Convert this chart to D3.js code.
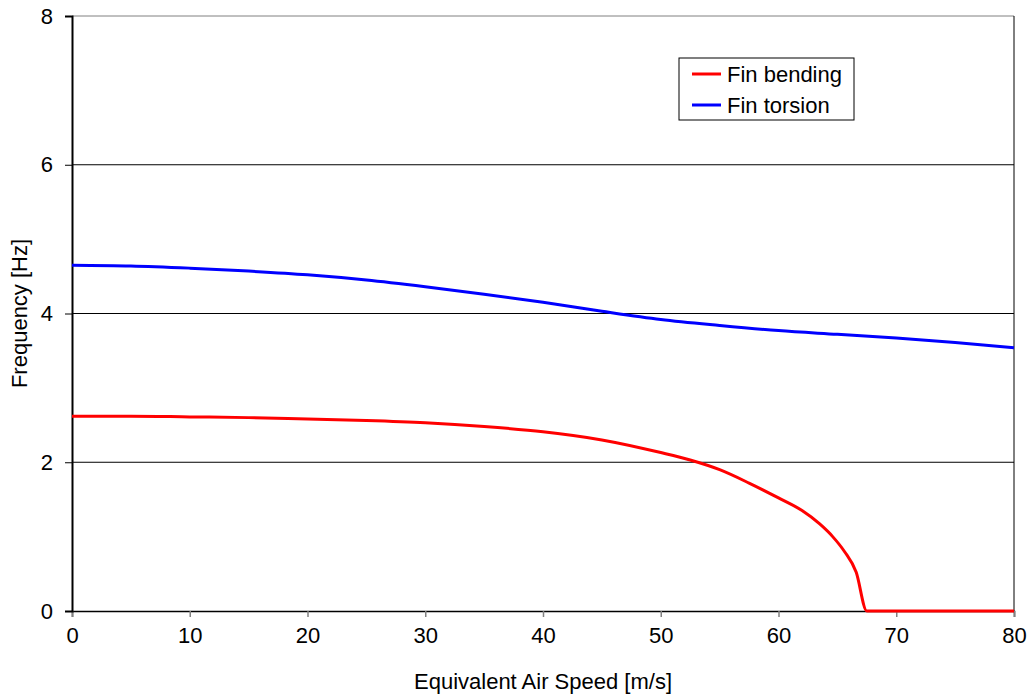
<!DOCTYPE html>
<html>
<head>
<meta charset="utf-8">
<script src="https://cdn.jsdelivr.net/npm/d3@7"></script>
<style>
  body { margin: 0; background: #fff; }
  svg text { font-family: "Liberation Sans", Arial, sans-serif; fill: #000; }
</style>
</head>
<body>
<svg id="chart" width="1031" height="700"></svg>
<script>
// data
const bendingSpeed = [0, 5, 10, 15, 20, 25, 30, 35, 40, 45, 50, 52.5, 55, 57.5, 60, 62, 63.5, 64.6, 65.6, 66.6, 67.5, 70, 75, 80];
const bendingFreq  = [2.62, 2.62, 2.61, 2.60, 2.58, 2.56, 2.53, 2.48, 2.41, 2.30, 2.13, 2.03, 1.90, 1.72, 1.52, 1.35, 1.17, 1.00, 0.80, 0.52, 0, 0, 0, 0];

const torsionSpeed = [0, 5, 10, 15, 20, 25, 30, 35, 40, 45, 50, 55, 60, 65, 70, 75, 80];
const torsionFreq  = [4.65, 4.64, 4.61, 4.57, 4.52, 4.45, 4.36, 4.26, 4.15, 4.03, 3.92, 3.84, 3.77, 3.72, 3.67, 3.61, 3.54];

const xTicks = [0, 10, 20, 30, 40, 50, 60, 70, 80];
const yTicks = [0, 2, 4, 6, 8];

const seriesNames = ["Fin bending", "Fin torsion"];
const seriesColors = ["#ff0000", "#0000ff"];

const svg = d3.select("#chart");
const plotLeft = 72, plotRight = 1014, plotTop = 16, plotBottom = 611;

const x = d3.scaleLinear().domain([0, 80]).range([plotLeft, plotRight]);
const y = d3.scaleLinear().domain([0, 8]).range([plotBottom, plotTop]);

// gridlines
svg.append("g")
    .selectAll("line")
    .data(yTicks.filter(d => d > 0))
    .enter()
    .append("line")
    .attr("x1", plotLeft).attr("x2", plotRight)
    .attr("y1", d => y(d)).attr("y2", d => y(d))
    .attr("stroke", d => d === 8 ? "#808080" : "#000")
    .attr("stroke-width", 1);

// right border
svg.append("line")
    .attr("x1", plotRight).attr("x2", plotRight)
    .attr("y1", plotTop).attr("y2", plotBottom)
    .attr("stroke", "#000").attr("stroke-width", 1);

// axes
const xAxis = svg.append("g")
    .attr("transform", `translate(0,${plotBottom})`)
    .call(d3.axisBottom(x).tickValues(xTicks).tickSize(6).tickPadding(10).tickFormat(d3.format("d")));
xAxis.select(".domain").attr("stroke", "#000").attr("stroke-width", 1.5);
xAxis.selectAll(".tick line").attr("stroke", "#808080").attr("stroke-width", 1.5);
xAxis.selectAll(".tick text").style("font-size", "22px");

const yAxis = svg.append("g")
    .attr("transform", `translate(${plotLeft},0)`)
    .call(d3.axisLeft(y).tickValues(yTicks).tickSize(7).tickPadding(12).tickFormat(d3.format("d")));
yAxis.select(".domain").attr("stroke", "#000").attr("stroke-width", 2);
yAxis.selectAll(".tick line").attr("stroke", "#000").attr("stroke-width", 1);
yAxis.selectAll(".tick text").style("font-size", "22px");

// lines
const bending = bendingSpeed.map((s, i) => ({ s: s, f: bendingFreq[i] }));
const torsion = torsionSpeed.map((s, i) => ({ s: s, f: torsionFreq[i] }));

const line = d3.line()
    .x(d => x(d.s))
    .y(d => y(d.f))
    .curve(d3.curveMonotoneX);

[bending, torsion].forEach((data, i) => {
    svg.append("path")
        .datum(data)
        .attr("d", line)
        .attr("fill", "none")
        .attr("stroke", seriesColors[i])
        .attr("stroke-width", 3)
        .attr("stroke-linejoin", "round");
});

// axis titles
svg.append("text")
    .attr("x", (plotLeft + plotRight) / 2)
    .attr("y", 689)
    .attr("text-anchor", "middle")
    .style("font-size", "22px")
    .text("Equivalent Air Speed [m/s]");

svg.append("text")
    .attr("transform", `translate(27,${(plotTop + plotBottom) / 2}) rotate(-90)`)
    .attr("text-anchor", "middle")
    .style("font-size", "22px")
    .text("Frequency [Hz]");

// legend
const legend = svg.append("g").attr("transform", "translate(679,58)");
legend.append("rect")
    .attr("width", 175).attr("height", 62)
    .attr("fill", "#fff").attr("stroke", "#000").attr("stroke-width", 1);
seriesNames.forEach((name, i) => {
    legend.append("line")
        .attr("x1", 13).attr("x2", 42)
        .attr("y1", 16 + i * 31).attr("y2", 16 + i * 31)
        .attr("stroke", seriesColors[i]).attr("stroke-width", 3);
    legend.append("text")
        .attr("x", 48).attr("y", 24 + i * 31)
        .style("font-size", "22px")
        .text(name);
});
</script>
</body>
</html>
